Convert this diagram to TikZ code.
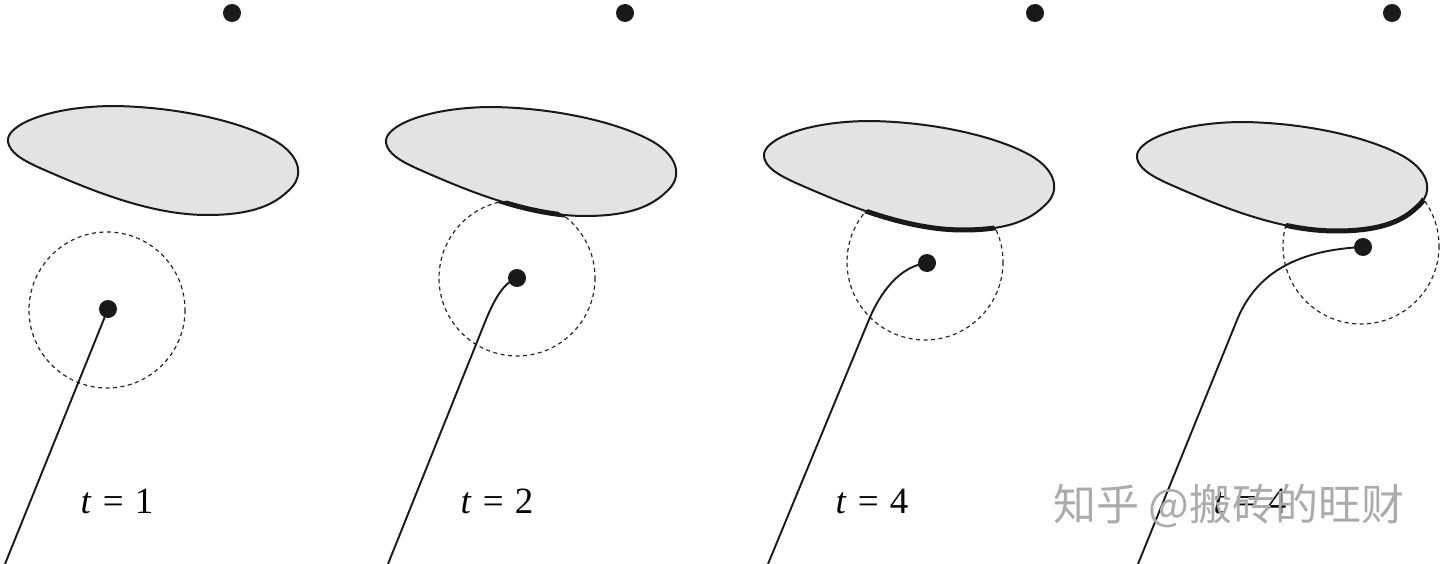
\documentclass[tikz,border=0pt]{standalone}
\usepackage{fontspec}
\setmainfont{Liberation Serif}
\newfontfamily\cjk{Noto Sans CJK SC}
\begin{document}
\begin{tikzpicture}[x=1pt,y=-1pt,
  dot/.style={circle,fill=black!90,draw=none,inner sep=0pt,minimum size=18pt},
  reach/.style={draw=black!85,line width=1.2pt,dash pattern=on 4pt off 3.5pt},
  blobstyle/.style={draw=black!90,fill=black!11,line width=2pt},
  contact/.style={draw=black!90,line width=5pt},
  traj/.style={draw=black!90,line width=1.9pt},
  lab/.style={font=\fontsize{37}{44}\selectfont,inner sep=0pt,anchor=base},
  wmark/.style={font=\cjk\fontsize{43}{50}\selectfont,text=black!33,inner sep=0pt}]
\useasboundingbox (0,0) rectangle (1440,564);
\def\blob{(8,142) .. controls (5,125) and (50,106) .. (115,106)
  .. controls (175,107) and (235,120) .. (270,138)
  .. controls (298,152) and (308,175) .. (287,192)
  .. controls (270,208) and (245,215) .. (207,215)
  .. controls (150,215) and (90,190) .. (40,168)
  .. controls (20,159) and (10,152) .. (8,142) -- cycle}

% top dots
\node[dot] (g1) at (232,13) {};
\node[dot] (g2) at (625,13) {};
\node[dot] (g3) at (1035,13) {};
\node[dot] (g4) at (1392,13) {};

% dashed reach circles
\draw[reach] (107,310) circle (78);
\draw[reach] (517,278) circle (78);
\draw[reach] (925,262) circle (78);
\draw[reach] (1361,246) circle (78);

% blobs
\begin{scope}[shift={(0,0)}]\path[blobstyle] \blob;\end{scope}
\begin{scope}[shift={(378,1)}]\path[blobstyle] \blob;\end{scope}
\begin{scope}[shift={(756,15)}]\path[blobstyle] \blob;\end{scope}
\begin{scope}[shift={(1129,16)}]\path[blobstyle] \blob;\end{scope}

% contact arcs
\begin{scope}
\clip (517,278) circle (78);
\begin{scope}[shift={(378,1)}]\path[contact] \blob;\end{scope}
\end{scope}
\begin{scope}
\clip (925,262) circle (78);
\begin{scope}[shift={(756,15)}]\path[contact] \blob;\end{scope}
\end{scope}
\begin{scope}
\clip (1361,246) circle (78);
\begin{scope}[shift={(1129,16)}]\path[contact] \blob;\end{scope}
\end{scope}

% robots
\node[dot] (p1) at (108,309) {};
\node[dot] (p2) at (517,278) {};
\node[dot] (p3) at (927,263) {};
\node[dot] (p4) at (1363,247) {};

\coordinate (s1) at (5,564);
\coordinate (s2) at (388,564);
\coordinate (s3) at (768,564);
\coordinate (s4) at (1138,564);
\coordinate (k2) at (485,322);
\coordinate (k3) at (868,322);
\coordinate (k4) at (1237,320);

\draw[traj] (s1) -- (p1.center);
\draw[traj] (s2) -- (k2) .. controls (494,300) and (503,283) .. (p2.center);
\draw[traj] (s3) -- (k3) .. controls (880,292) and (900,266) .. (p3.center);
\draw[traj] (s4) -- (k4) .. controls (1257,271) and (1300,250) .. (p4.center);

% labels
\node[lab] (l1) at (117,513) {\textit{t}\hspace{0.3em}=\hspace{0.3em}1};
\node[lab] (l2) at (497,513) {\textit{t}\hspace{0.3em}=\hspace{0.3em}2};
\node[lab] (l3) at (872,513) {\textit{t}\hspace{0.3em}=\hspace{0.3em}4};
\node[lab] (l4) at (1250,513) {\textit{t}\hspace{0.3em}=\hspace{0.3em}4};

% watermark
\node[wmark] (wm) at (1229,506) {知乎 @搬砖的旺财};
\end{tikzpicture}
\end{document}
